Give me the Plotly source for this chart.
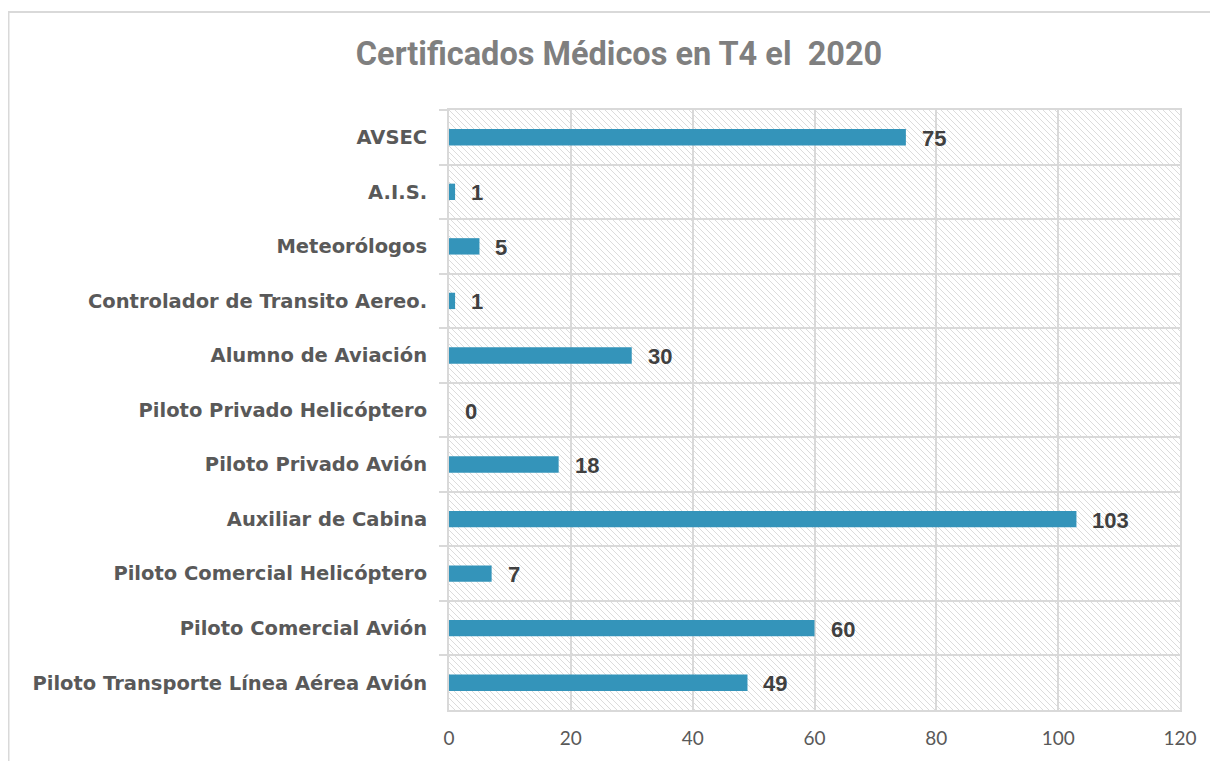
import base64
import plotly.graph_objects as go

categories = [
    "AVSEC",
    "A.I.S.",
    "Meteorólogos",
    "Controlador de Transito Aereo.",
    "Alumno de Aviación",
    "Piloto Privado Helicóptero",
    "Piloto Privado Avión",
    "Auxiliar de Cabina",
    "Piloto Comercial Helicóptero",
    "Piloto Comercial Avión",
    "Piloto Transporte Línea Aérea Avión",
]
values = [75, 1, 5, 1, 30, 0, 18, 103, 7, 60, 49]
x_ticks = [0, 20, 40, 60, 80, 100, 120]
title_text = "Certificados Médicos en T4 el  2020"

OFF = 8  # page body margin
W, H = 1218 - OFF, 761 - OFF
L, T = 449 - OFF, 110 - OFF
R, B = W - (1180 - OFF), H - (710 - OFF)
PW, PH = W - L - R, H - T - B

# diagonal hatch background for plot area
svg = (
    f'<svg xmlns="http://www.w3.org/2000/svg" width="{PW}" height="{PH}">'
    '<defs><pattern id="h" width="6" height="6" patternUnits="userSpaceOnUse">'
    '<path d="M-1,-1 L7,7 M-1,5 L1,7 M5,-1 L7,1" stroke="#dcdcdc" stroke-width="1"/>'
    '</pattern></defs>'
    f'<rect width="{PW}" height="{PH}" fill="white"/>'
    f'<rect width="{PW}" height="{PH}" fill="url(#h)"/></svg>'
)
svg_uri = "data:image/svg+xml;base64," + base64.b64encode(svg.encode()).decode()

fig = go.Figure()
fig.add_trace(go.Bar(
    x=values, y=categories, orientation="h",
    marker=dict(color="#3494BA", line=dict(width=0)),
    width=0.3,
    hoverinfo="x+y",
))

for v, c in zip(values, categories):
    fig.add_annotation(
        x=v, y=c, text=str(v), showarrow=False,
        xanchor="left", yanchor="middle", xshift=14, yshift=-1,
        font=dict(family="Liberation Sans, Arial", size=22, color="#404040", weight="bold"),
    )

fig.add_layout_image(
    source=svg_uri, xref="paper", yref="paper", x=0, y=1,
    sizex=1, sizey=1, xanchor="left", yanchor="top",
    sizing="stretch", layer="below",
)

# outer chart border
fig.add_shape(
    type="rect", xref="paper", yref="paper",
    x0=(0.5 - L) / PW, x1=(W + 20 - L) / PW,
    y0=-(H + 20 - T - PH) / PH, y1=1 + (T - 4) / PH,
    line=dict(color="#d9d9d9", width=2), fillcolor="rgba(0,0,0,0)", layer="below",
)

fig.update_layout(
    width=W, height=H,
    margin=dict(l=L, r=R, t=T, b=B, autoexpand=False),
    paper_bgcolor="white",
    plot_bgcolor="rgba(0,0,0,0)",
    showlegend=False,
    title=dict(
        text=title_text, x=0.505, xanchor="center", y=1 - (54 - OFF) / H, yanchor="middle",
        font=dict(family="Roboto, Liberation Sans", size=32.5,
                  color="#7f7f7f", weight="bold"),
    ),
    xaxis=dict(
        range=[0, 120], tickvals=x_ticks, ticktext=[str(t) for t in x_ticks],
        showgrid=True, gridcolor="#d9d9d9", gridwidth=2,
        showline=True, linecolor="#d9d9d9", linewidth=2, mirror=True,
        zeroline=False, ticks="", ticklabelstandoff=10,
        tickfont=dict(family="Lato, Noto Sans", size=19, color="#595959"),
    ),
    yaxis=dict(
        autorange="reversed", type="category",
        tickson="boundaries", ticks="outside", ticklen=8, tickcolor="#d9d9d9", tickwidth=2,
        showgrid=True, gridcolor="#d9d9d9", gridwidth=2,
        showline=True, linecolor="#d9d9d9", linewidth=2, mirror=True,
        zeroline=False, ticklabelstandoff=16,
        tickfont=dict(family="DejaVu Sans", size=19.5, color="#595959", weight="bold"),
    ),
)

fig.write_html("out.html")
